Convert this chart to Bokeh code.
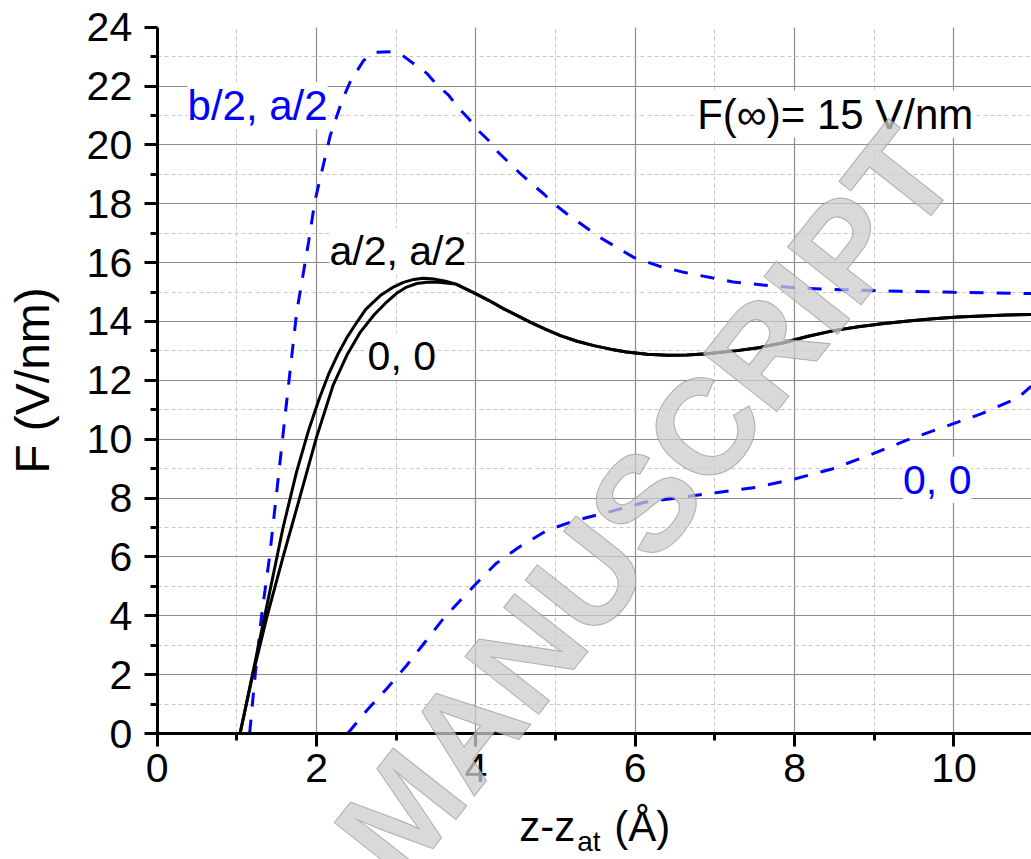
from bokeh.plotting import figure
from bokeh.models import Label, FixedTicker, Range1d, Grid
from bokeh.embed import file_html
from bokeh.resources import INLINE

FONT = "Liberation Sans"

# ---------------- data ----------------
# black solid, "a/2, a/2"
x_aa = [1.04, 1.35, 1.58, 1.75, 1.90, 2.03, 2.15, 2.27, 2.38, 2.50, 2.62, 2.80, 2.95,
        3.09, 3.22, 3.34, 3.48, 3.62, 3.75, 3.97, 4.16, 4.35, 4.52, 4.68, 4.87,
        5.06, 5.27, 5.48, 5.69, 5.89, 6.15, 6.40, 6.65, 6.90, 7.28, 7.57, 7.86,
        8.17, 8.49, 8.80, 9.12, 9.43, 9.74, 10.05, 10.35, 10.66, 10.97]
y_aa = [0.0, 4.0, 7.0, 8.9, 10.3, 11.35, 12.2, 12.9, 13.45, 13.95, 14.42, 14.88, 15.15,
        15.33, 15.43, 15.47, 15.44, 15.37, 15.27, 14.98, 14.72, 14.43, 14.20, 13.98, 13.74,
        13.52, 13.33, 13.18, 13.06, 12.96, 12.89, 12.85, 12.86, 12.90, 13.01, 13.12, 13.28,
        13.50, 13.69, 13.82, 13.93, 14.02, 14.09, 14.15, 14.19, 14.22, 14.24]

# black solid, "0, 0"
x_00 = [1.04, 1.20, 1.38, 1.58, 1.78, 2.00, 2.21, 2.38, 2.55, 2.72, 2.88, 3.00,
        3.13, 3.26, 3.38, 3.50, 3.62, 3.75, 3.97, 4.16, 4.35, 4.52, 4.68, 4.87,
        5.06, 5.27, 5.48, 5.69, 5.89, 6.15, 6.40, 6.65, 6.90, 7.28, 7.57, 7.86,
        8.17, 8.49, 8.80, 9.12, 9.43, 9.74, 10.05, 10.35, 10.66, 10.97]
y_00 = [0.0, 2.0, 4.0, 6.0, 7.93, 10.07, 11.85, 12.85, 13.64, 14.22, 14.66, 14.95,
        15.17, 15.29, 15.33, 15.34, 15.31, 15.27, 14.98, 14.72, 14.43, 14.20, 13.98, 13.74,
        13.52, 13.33, 13.18, 13.06, 12.96, 12.89, 12.85, 12.86, 12.90, 13.01, 13.12, 13.28,
        13.50, 13.69, 13.82, 13.93, 14.02, 14.09, 14.15, 14.19, 14.22, 14.24]

# blue dashed, "b/2, a/2"
x_ba = [1.16, 1.23, 1.31, 1.41, 1.47, 1.63, 1.75, 1.90, 1.98, 2.17, 2.32, 2.42,
        2.59, 2.74, 2.95, 3.08, 3.25, 3.38, 3.52, 3.66, 3.78, 3.91, 4.03, 4.16,
        4.28, 4.41, 4.56, 4.70, 4.85, 4.98, 5.14, 5.29, 5.56, 5.98, 6.30, 6.61,
        7.23, 7.60, 8.07, 8.60, 9.32, 10.00, 10.79, 10.97]
y_ba = [0.0, 2.0, 4.0, 6.0, 7.47, 11.4, 14.3, 16.7, 18.1, 20.3, 21.5, 22.13,
        22.87, 23.15, 23.17, 23.04, 22.7, 22.44, 22.02, 21.68, 21.26, 20.89, 20.49, 20.15,
        19.75, 19.41, 19.02, 18.68, 18.34, 18.0, 17.66, 17.37, 16.85, 16.18, 15.88, 15.67,
        15.34, 15.24, 15.13, 15.08, 15.03, 14.99, 14.96, 14.95]

# blue dashed, "0, 0"
x_b00 = [2.39, 2.63, 2.88, 3.13, 3.36, 3.59, 3.96, 4.25, 4.54, 4.89, 5.25, 5.66,
         6.12, 6.59, 7.06, 7.53, 8.00, 8.47, 8.93, 9.40, 9.87, 10.34, 10.80, 10.97]
y_b00 = [0.0, 0.78, 1.52, 2.31, 3.10, 3.90, 4.97, 5.77, 6.33, 6.90, 7.24, 7.52,
         7.86, 8.03, 8.20, 8.37, 8.65, 8.99, 9.45, 9.96, 10.41, 10.86, 11.40, 11.80]

x_major = [0, 2, 4, 6, 8, 10]
x_minor = [1, 3, 5, 7, 9]
y_major = [0, 2, 4, 6, 8, 10, 12, 14, 16, 18, 20, 22, 24]
y_minor = [1, 3, 5, 7, 9, 11, 13, 15, 17, 19, 21, 23]
x_grid_major = [2, 4, 6, 8, 10]
y_grid_major = [2, 4, 6, 8, 10, 12, 14, 16, 18, 20, 22]

# ---------------- figure: the frame covers the whole canvas ----------------
X_END = 10.973
Y_END = 24.0
X0, X1 = -1.9666, X_END
Y0, Y1 = -4.281, 24.907

p = figure(width=1031, height=859, x_range=Range1d(X0, X1), y_range=Range1d(Y0, Y1),
           output_backend="svg", toolbar_location=None,
           min_border_left=0, min_border_right=0, min_border_top=0, min_border_bottom=0)
p.outline_line_color = None
p.background_fill_color = "white"
p.border_fill_color = "white"

p.xaxis.fixed_location = 0
p.yaxis.fixed_location = 0
p.xaxis.bounds = (0, X_END)
p.yaxis.bounds = (0, Y_END)

for ax, maj, mnr in ((p.xaxis[0], x_major, x_minor), (p.yaxis[0], y_major, y_minor)):
    ax.ticker = FixedTicker(ticks=maj, minor_ticks=mnr)
    ax.axis_line_color = "black"
    ax.axis_line_width = 3
    ax.major_tick_line_color = "black"
    ax.major_tick_line_width = 3
    ax.major_tick_out = 13
    ax.major_tick_in = 0
    ax.minor_tick_line_color = "black"
    ax.minor_tick_line_width = 3
    ax.minor_tick_out = 7
    ax.minor_tick_in = 0
    ax.major_label_text_font = FONT
    ax.major_label_text_font_size = "41px"
    ax.major_label_text_color = "black"

p.xaxis.major_label_standoff = 7
p.yaxis.major_label_standoff = 12
p.yaxis.axis_label = "F (V/nm)"
p.yaxis.axis_label_text_font = FONT
p.yaxis.axis_label_text_font_size = "48px"
p.yaxis.axis_label_text_font_style = "normal"
p.yaxis.axis_label_text_color = "black"
p.yaxis.axis_label_standoff = 25

has_cross = "cross_bounds" in Grid.properties()

p.xgrid.ticker = FixedTicker(ticks=x_grid_major, minor_ticks=x_minor)
p.ygrid.ticker = FixedTicker(ticks=y_grid_major, minor_ticks=y_minor)
p.xgrid.bounds = (0, X_END)
p.ygrid.bounds = (0, Y_END)
if has_cross:
    p.xgrid.cross_bounds = (0, Y_END)
    p.ygrid.cross_bounds = (0, X_END)
for g in (p.xgrid[0], p.ygrid[0]):
    g.grid_line_color = "#8c8c8c"
    g.grid_line_width = 1.2
    g.minor_grid_line_color = "#c6c6c6"
    g.minor_grid_line_width = 1
    g.minor_grid_line_dash = "4 3"
    if not has_cross:
        g.visible = False

if not has_cross:
    p.segment(x0=x_grid_major, y0=[0] * len(x_grid_major), x1=x_grid_major, y1=[Y_END] * len(x_grid_major),
              line_color="#8c8c8c", line_width=1.2, level="underlay")
    p.segment(x0=[0] * len(y_grid_major), y0=y_grid_major, x1=[X_END] * len(y_grid_major), y1=y_grid_major,
              line_color="#8c8c8c", line_width=1.2, level="underlay")
    p.segment(x0=x_minor, y0=[0] * len(x_minor), x1=x_minor, y1=[Y_END] * len(x_minor),
              line_color="#c6c6c6", line_width=1, line_dash="4 3", level="underlay")
    p.segment(x0=[0] * len(y_minor), y0=y_minor, x1=[X_END] * len(y_minor), y1=y_minor,
              line_color="#c6c6c6", line_width=1, line_dash="4 3", level="underlay")

# ---------------- curves ----------------
p.line(x_ba, y_ba, line_color="#0000ff", line_width=3, line_dash="14 13")
p.line(x_b00, y_b00, line_color="#0000ff", line_width=3, line_dash="14 13")
p.line(x_aa, y_aa, line_color="black", line_width=3)
p.line(x_00, y_00, line_color="black", line_width=3)

# ---------------- annotations ----------------
def lab(x, y, text, color, size, align="center", bg="white", level="underlay"):
    l = Label(x=x, y=y, text=text, text_color=color, text_font=FONT,
              text_font_size=size, text_align=align, text_baseline="alphabetic",
              background_fill_color=bg, level=level)
    p.add_layout(l)
    return l

lab(1.26, 21.34, "b/2, a/2", "#0000ff", "42px")
lab(8.51, 21.05, "F(\u221e)= 15 V/nm", "black", "42px")
lab(3.02, 16.38, "a/2, a/2", "black", "41px")
lab(3.07, 12.82, "0, 0", "black", "41px")
lab(9.79, 8.62, "0, 0", "#0000ff", "41px")

# x-axis title with subscript
lab(4.543, -3.15, "z-z", "black", "42px", align="left", bg=None, level="annotation")
lab(5.271, -3.68, "at", "black", "28px", align="left", bg=None, level="annotation")
lab(5.736, -3.15, "(\u00c5)", "black", "42px", align="left", bg=None, level="annotation")

# watermark
wm = Label(x=6.13, y=7.85, text="MANUSCRIPT", angle=0.904, text_font=FONT,
           text_font_size="136px", text_font_style="bold", text_color="#cccccc",
           text_alpha=0.75, text_outline_color="#999999",
           text_align="center", text_baseline="alphabetic", level="overlay")
p.add_layout(wm)

open("out.html", "w").write(file_html(p, INLINE))
